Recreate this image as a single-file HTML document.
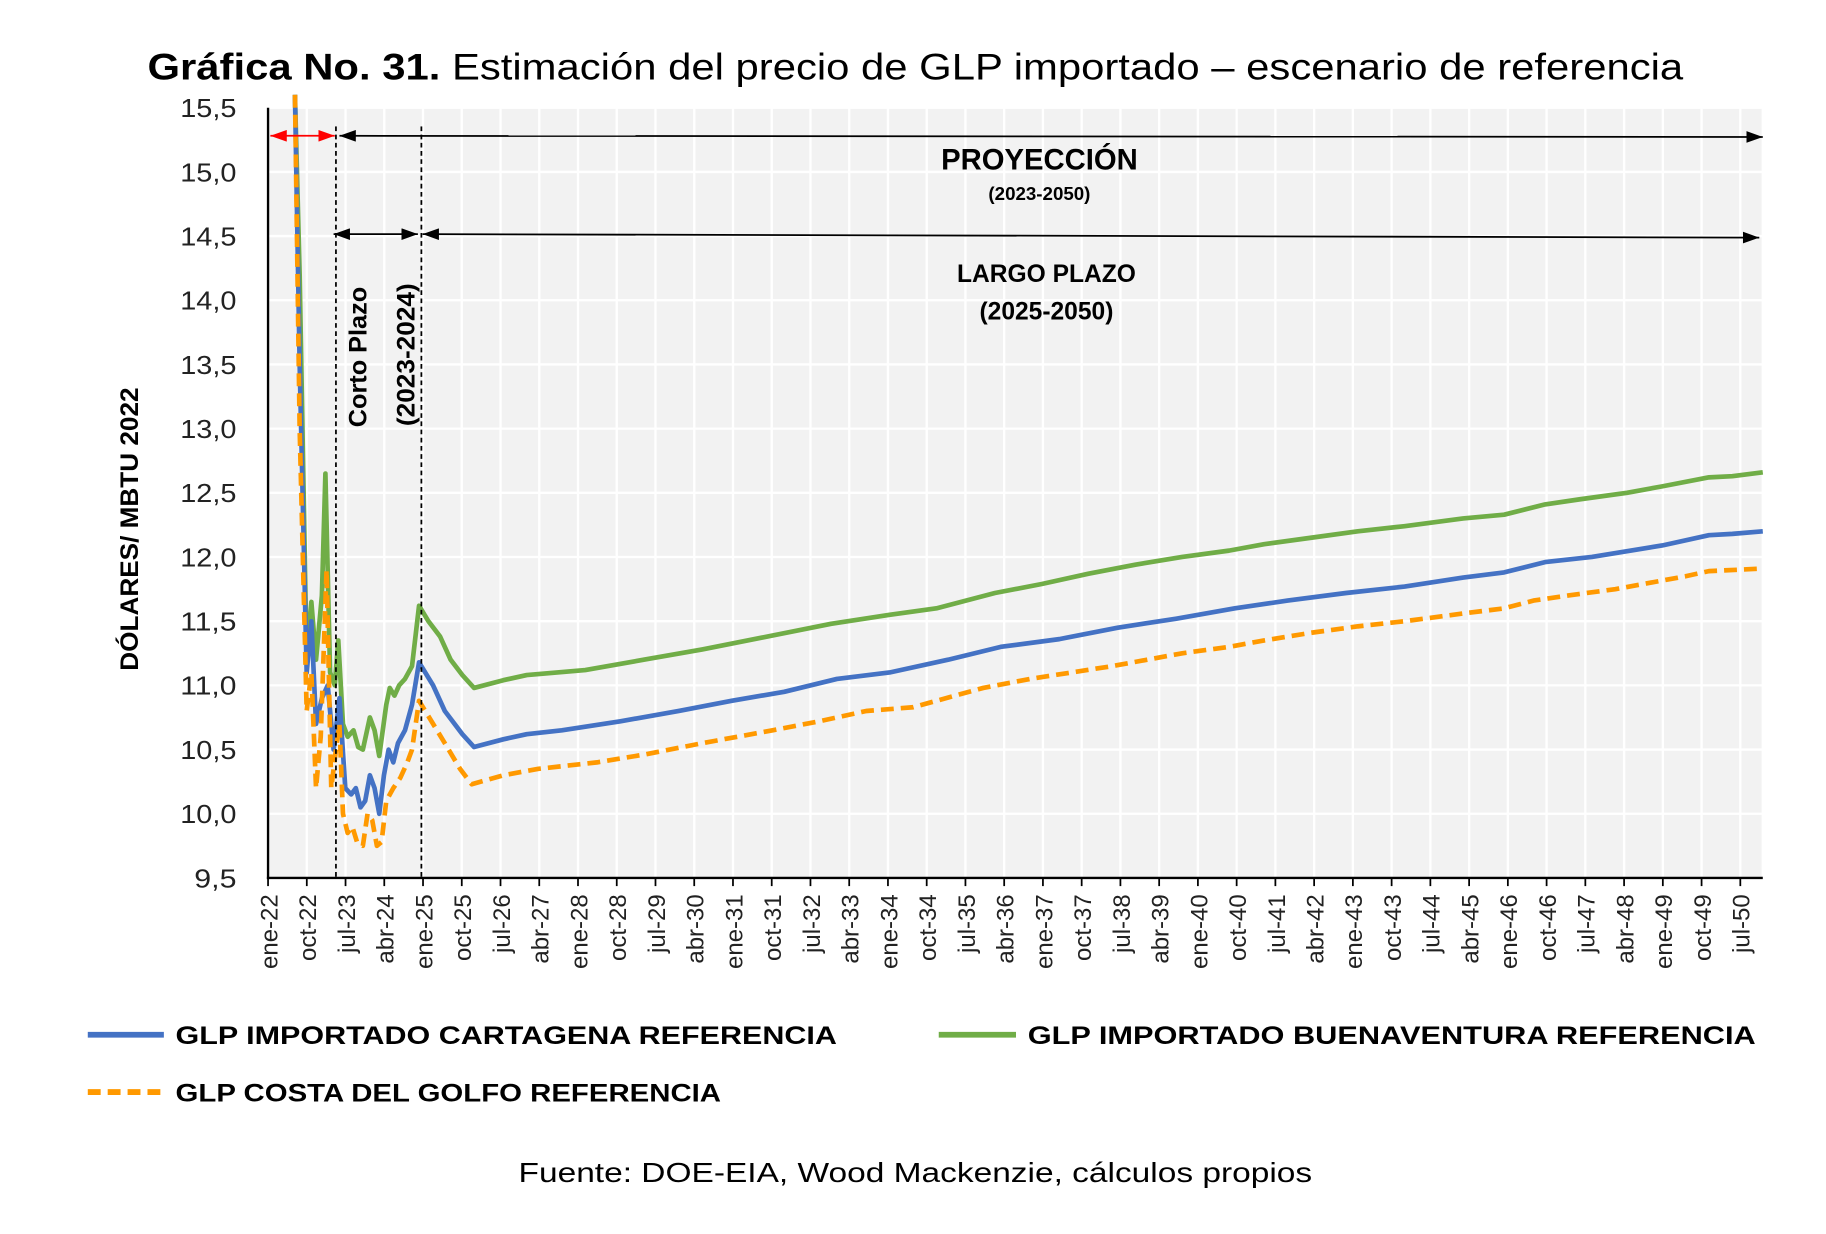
<!DOCTYPE html>
<html><head><meta charset="utf-8"><style>
html,body{margin:0;padding:0;background:#fff;}
svg{display:block;}
text{font-family:"Liberation Sans",sans-serif;}
.b{font-weight:bold;}
</style></head><body>
<svg id="s" width="1826" height="1234" viewBox="0 0 1560 1054.2" xmlns="http://www.w3.org/2000/svg">
<defs>
<marker id="ak" markerWidth="14" markerHeight="10" refX="14" refY="5" orient="auto-start-reverse" markerUnits="userSpaceOnUse"><path d="M0,0 L14,5 L0,10 z" fill="#000"/></marker>
<marker id="ar" markerWidth="14" markerHeight="10" refX="14" refY="5" orient="auto-start-reverse" markerUnits="userSpaceOnUse"><path d="M0,0 L14,5 L0,10 z" fill="#f00"/></marker>
</defs>
<text x="782" y="68" text-anchor="middle" font-size="32" textLength="1312" lengthAdjust="spacingAndGlyphs"><tspan class="b">Gráfica No. 31.</tspan> Estimación del precio de GLP importado – escenario de referencia</text>
<rect x="229" y="92" width="1277" height="658" fill="#f2f2f2"/>
<g id="grid" stroke="#fff" stroke-width="2"></g>
<g id="ylab" font-size="22" text-anchor="end" fill="#222"></g>
<g id="xlab" font-size="20.5" fill="#222"></g>
<g id="series" fill="none" stroke-linejoin="round"></g>
<line x1="229" y1="92" x2="229" y2="751" stroke="#000" stroke-width="2"/>
<line x1="228" y1="750" x2="1506" y2="750" stroke="#000" stroke-width="2"/>
<g id="ticks" stroke="#000" stroke-width="1.5"></g>
<line x1="287" y1="108" x2="287" y2="750" stroke="#000" stroke-width="1.5" stroke-dasharray="4,3"/>
<line x1="360" y1="108" x2="360" y2="750" stroke="#000" stroke-width="1.5" stroke-dasharray="4,3"/>
<line x1="231" y1="116" x2="286" y2="116" stroke="#f00" stroke-width="1.5" marker-start="url(#ar)" marker-end="url(#ar)"/>
<line x1="290" y1="116" x2="1506" y2="117" stroke="#000" stroke-width="1.5" marker-start="url(#ak)" marker-end="url(#ak)"/>
<line x1="285" y1="200" x2="357" y2="200" stroke="#000" stroke-width="1.5" marker-start="url(#ak)" marker-end="url(#ak)"/>
<line x1="361" y1="200" x2="1503" y2="203" stroke="#000" stroke-width="1.5" marker-start="url(#ak)" marker-end="url(#ak)"/>
<text x="888" y="145" text-anchor="middle" font-size="25" class="b">PROYECCIÓN</text>
<text x="888" y="171" text-anchor="middle" font-size="16" class="b">(2023-2050)</text>
<text x="894" y="241" text-anchor="middle" font-size="21" class="b">LARGO PLAZO</text>
<text x="894" y="273" text-anchor="middle" font-size="21" class="b">(2025-2050)</text>
<text transform="translate(313,305) rotate(-90)" text-anchor="middle" font-size="21" class="b" textLength="120" lengthAdjust="spacingAndGlyphs">Corto Plazo</text>
<text transform="translate(354,303) rotate(-90)" text-anchor="middle" font-size="21" class="b" textLength="122" lengthAdjust="spacingAndGlyphs">(2023-2024)</text>
<text transform="translate(118,452) rotate(-90)" text-anchor="middle" font-size="21" class="b" textLength="242" lengthAdjust="spacingAndGlyphs">DÓLARES/ MBTU 2022</text>
<line x1="75" y1="884" x2="140" y2="884" stroke="#4472c4" stroke-width="5"/>
<text x="150" y="892" font-size="21" class="b" textLength="565" lengthAdjust="spacingAndGlyphs">GLP IMPORTADO CARTAGENA REFERENCIA</text>
<line x1="802" y1="884" x2="868" y2="884" stroke="#70ad47" stroke-width="5"/>
<text x="878" y="892" font-size="21" class="b" textLength="622" lengthAdjust="spacingAndGlyphs">GLP IMPORTADO BUENAVENTURA REFERENCIA</text>
<line x1="75" y1="933" x2="140" y2="933" stroke="#ff9900" stroke-width="5" stroke-dasharray="11,6"/>
<text x="150" y="941" font-size="21" class="b" textLength="466" lengthAdjust="spacingAndGlyphs">GLP COSTA DEL GOLFO REFERENCIA</text>
<text x="782" y="1010" text-anchor="middle" font-size="24" textLength="678" lengthAdjust="spacingAndGlyphs">Fuente: DOE-EIA, Wood Mackenzie, cálculos propios</text>
</svg>
<script>
var NS="http://www.w3.org/2000/svg";
function el(p,t,a,txt){var e=document.createElementNS(NS,t);for(var k in a)e.setAttribute(k,a[k]);if(txt)e.textContent=txt;document.getElementById(p).appendChild(e);return e;}
function Y(v){return 92+(15.5-v)*109.67;}
for(var v=9.5;v<=15.51;v+=0.5){var y=Y(v);if(v>9.6)el("grid","line",{x1:229,x2:1506,y1:y,y2:y});
var s=v.toFixed(1).replace(".",",");
el("ylab","text",{x:202,y:y+8,textLength:(s.length==4?48:36),lengthAdjust:"spacingAndGlyphs"},s);}
var mon=["ene","abr","jul","oct"];
for(var k=0;k<=38;k++){var x=229+k*33.1;if(k>0)el("grid","line",{x1:x,x2:x,y1:92,y2:750});
el("ticks","line",{x1:x,x2:x,y1:750,y2:757});
var m=k*9,yy=22+Math.floor(m/12),mm=(m%12)/3;
el("xlab","text",{transform:"translate("+(x+8)+",764) rotate(-90)","text-anchor":"end"},mon[mm]+"-"+yy);}
el("grid","line",{x1:1506,x2:1506,y1:92,y2:750});
function path(pts,attrs){var d="";for(var i=0;i<pts.length;i+=2)d+=(i?"L":"M")+pts[i]+","+Y(pts[i+1]).toFixed(1);attrs.d=d;el("series","path",attrs);}
var blue=[252,15.6,256,13.5,262,11.1,266,11.5,270,10.7,275,10.9,280,11.0,285,10.5,290,10.9,295,10.2,300,10.15,304,10.2,308,10.05,312,10.1,316,10.3,320,10.2,324,10.0,328,10.3,332,10.5,336,10.4,340,10.55,346,10.65,352,10.85,358,11.18,370,11.0,380,10.8,395,10.62,405,10.52,430,10.58,450,10.62,480,10.65,530,10.72,580,10.8,625,10.88,670,10.95,715,11.05,760,11.1,810,11.2,855,11.3,905,11.36,955,11.45,1005,11.52,1055,11.6,1100,11.66,1150,11.72,1200,11.77,1250,11.84,1285,11.88,1320,11.96,1360,12.0,1420,12.09,1460,12.17,1480,12.18,1506,12.2];
var green=[252,15.6,256,14.2,262,11.2,266,11.65,270,11.2,275,11.7,278,12.65,282,11.1,286,11.0,289,11.35,293,10.7,297,10.6,302,10.65,306,10.52,310,10.5,316,10.75,320,10.65,324,10.45,330,10.85,333,10.98,337,10.92,341,11.0,346,11.05,352,11.15,358,11.62,366,11.5,376,11.38,385,11.2,395,11.08,405,10.98,430,11.04,450,11.08,500,11.12,550,11.2,600,11.28,650,11.37,710,11.48,760,11.55,800,11.6,850,11.72,890,11.79,930,11.87,970,11.94,1010,12.0,1050,12.05,1080,12.1,1120,12.15,1160,12.2,1200,12.24,1250,12.3,1285,12.33,1320,12.41,1350,12.45,1390,12.5,1420,12.55,1460,12.62,1480,12.63,1506,12.66];
var orange=[252,15.6,256,13.0,262,10.8,266,11.1,270,10.2,274,10.6,279,11.9,283,10.2,287,10.5,290,10.7,293,10.0,297,9.85,301,9.9,305,9.78,310,9.75,314,10.0,318,9.95,322,9.75,326,9.78,330,10.1,336,10.2,342,10.28,348,10.4,352,10.5,358,10.88,370,10.7,380,10.55,393,10.35,403,10.23,430,10.3,460,10.35,510,10.4,550,10.46,600,10.55,660,10.65,700,10.72,740,10.8,780,10.83,800,10.88,840,10.98,880,11.05,950,11.15,1010,11.25,1050,11.3,1080,11.35,1120,11.41,1160,11.46,1200,11.5,1250,11.56,1285,11.6,1310,11.66,1340,11.7,1380,11.75,1410,11.8,1440,11.85,1460,11.89,1506,11.91];
path(green,{stroke:"#70ad47","stroke-width":4});
path(blue,{stroke:"#4472c4","stroke-width":4});
path(orange,{stroke:"#ff9900","stroke-width":4,"stroke-dasharray":"11,6"});
</script>
</body></html>
